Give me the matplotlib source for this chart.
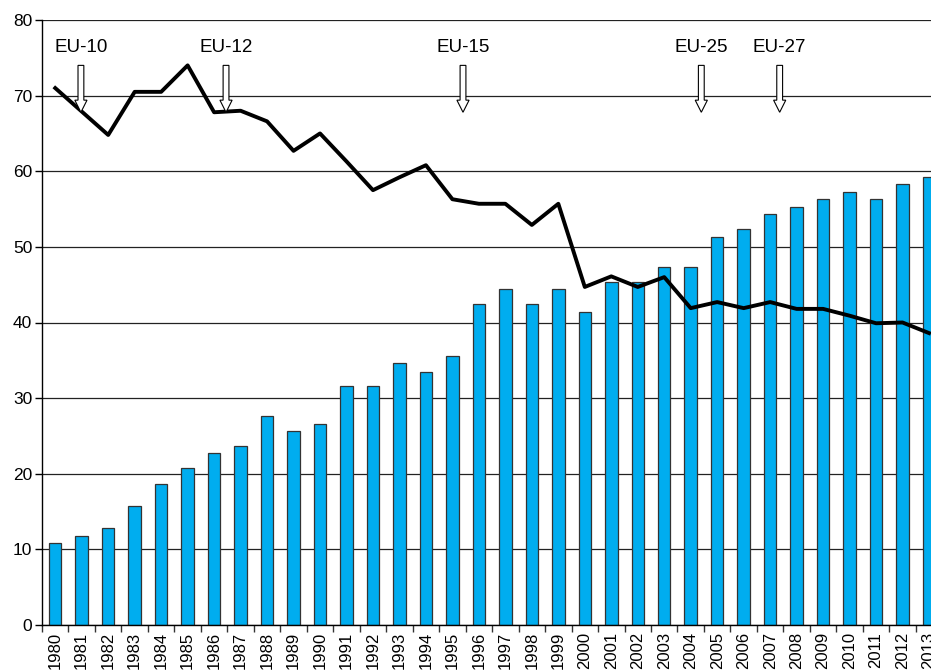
import matplotlib
matplotlib.use("Agg")
import matplotlib.pyplot as plt
from matplotlib.patches import FancyArrow

plt.rcParams['font.family'] = ['Liberation Sans', 'DejaVu Sans']

years = list(range(1980, 2014))
bars = [10.9, 11.8, 12.8, 15.8, 18.7, 20.7, 22.7, 23.7, 27.6, 25.6,
        26.6, 31.6, 31.6, 34.6, 33.5, 35.6, 42.4, 44.4, 42.4, 44.4,
        41.4, 45.4, 45.4, 47.4, 47.4, 51.3, 52.3, 54.3, 55.3, 56.3,
        57.2, 56.3, 58.3, 59.2]
line = [71.0, 67.9, 64.8, 70.5, 70.5, 74.0, 67.8, 68.0, 66.6, 62.7,
        65.0, 61.3, 57.5, 59.2, 60.8, 56.3, 55.7, 55.7, 52.9, 55.7,
        44.7, 46.1, 44.7, 46.0, 41.9, 42.7, 41.9, 42.7, 41.8, 41.8,
        40.9, 39.9, 40.0, 38.6]
# enlargement markers: label, position in category units
eu_labels = ["EU-10", "EU-12", "EU-15", "EU-25", "EU-27"]
eu_pos = [0.97, 6.45, 15.4, 24.4, 27.36]

x = list(range(len(years)))

fig = plt.figure(figsize=(9.31, 6.72), dpi=100)
ax = fig.add_axes([42 / 931, 1 - 625 / 672, 1 - 42 / 931 + 0.001, (625 - 20) / 672])

ax.set_axisbelow(True)
ax.yaxis.grid(True, color='#222222', linewidth=0.9)
ax.bar(x, bars, width=0.47, color='#00ADEF', edgecolor='#333333', linewidth=0.9, zorder=2)
ax.plot(x, line, color='black', linewidth=2.8, zorder=3)

for lab, p in zip(eu_labels, eu_pos):
    ax.add_patch(FancyArrow(p, 74.0, 0, -6.2, width=0.22, head_width=0.46, head_length=1.6,
                            length_includes_head=True, facecolor='white', edgecolor='black',
                            linewidth=0.8, zorder=4))
    ax.text(p, 76.3, lab, ha='center', va='center', fontsize=13.5)

ax.set_yticks(range(0, 81, 10))
ax.set_xticks(x)
ax.set_xticklabels([str(y) for y in years], rotation=90, fontsize=12)
ax.set_xticks([i - 0.5 for i in range(len(years) + 1)], minor=True)
ax.set_xlim(-0.5, 33.11)
ax.set_ylim(0, 80)
ax.tick_params(axis='x', which='major', length=0, pad=5)
ax.tick_params(axis='x', which='minor', length=5, width=1, color='#333333')
ax.tick_params(axis='y', length=5, width=1, labelsize=12.5, pad=2)

for s in ['top', 'right']:
    ax.spines[s].set_visible(False)
for s in ['left', 'bottom']:
    ax.spines[s].set_color('black')
    ax.spines[s].set_linewidth(1)

fig.savefig("out.png", dpi=100)
